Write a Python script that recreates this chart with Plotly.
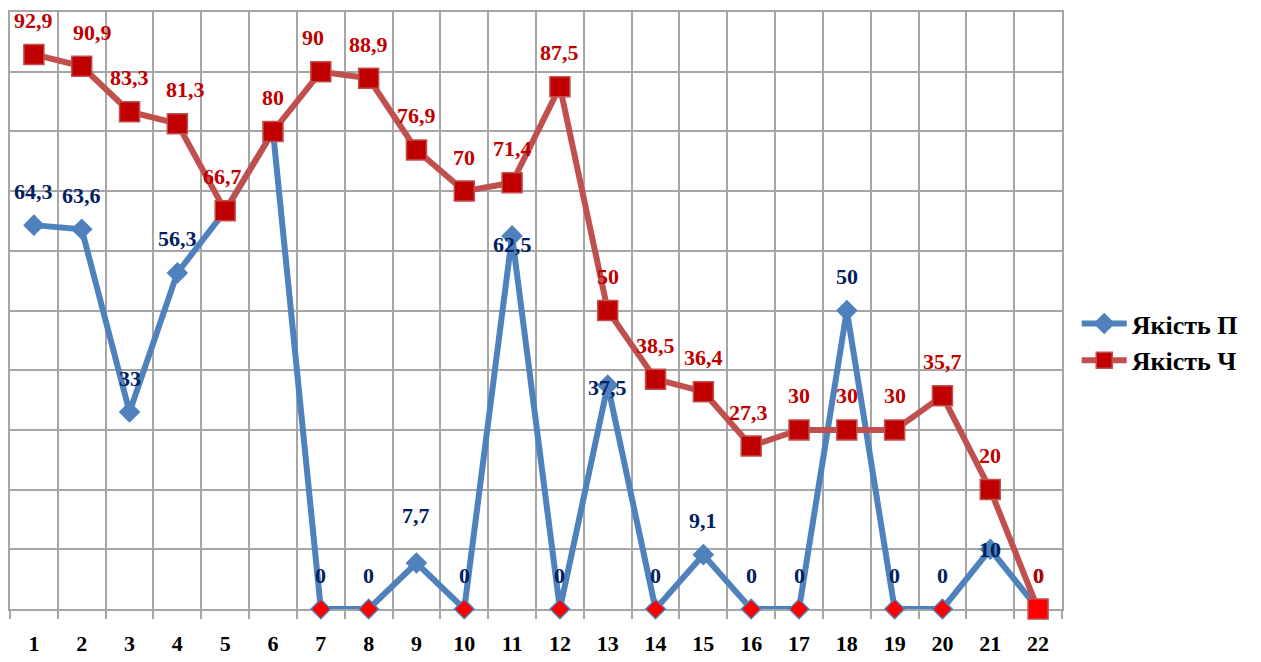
import plotly.graph_objects as go

categories = [str(i) for i in range(1, 23)]
quality_p = [64.3, 63.6, 33, 56.3, 66.7, 80, 0, 0, 7.7, 0, 62.5, 0, 37.5, 0, 9.1, 0, 0, 50, 0, 0, 10, 0]
quality_ch = [92.9, 90.9, 83.3, 81.3, 66.7, 80, 90, 88.9, 76.9, 70, 71.4, 87.5, 50, 38.5, 36.4, 27.3, 30, 30, 30, 35.7, 20, 0]
name_p = "Якість П"
name_ch = "Якість Ч"


def fmt(v):
    return f"{v:g}".replace(".", ",")


BLUE = "#4f81bd"
RED_LINE = "#c0504d"
RED_FILL = "#c00000"
NAVY = "#002060"
FONT = "Liberation Serif"

blue_fill = ["#ff0000" if v == 0 else BLUE for v in quality_p]
red_fill = ["#ff0000" if v == 0 else RED_FILL for v in quality_ch]

fig = go.Figure()
fig.add_trace(go.Scatter(
    x=categories, y=quality_p, name=name_p, mode="lines+markers",
    line=dict(color=BLUE, width=6), cliponaxis=False,
    marker=dict(symbol="diamond", size=15, color=blue_fill, opacity=1,
                line=dict(color=BLUE, width=1.5)),
))
fig.add_trace(go.Scatter(
    x=categories, y=quality_ch, name=name_ch, mode="lines+markers",
    line=dict(color=RED_LINE, width=6), cliponaxis=False,
    marker=dict(symbol="square", size=20, color=red_fill, opacity=1,
                line=dict(color=RED_LINE, width=1.5)),
))

# label placement tweaks (style only)
blue_skip = {4, 5}
blue_dy = {2: 33, 8: 48, 10: -9, 12: -2, 20: 0}
red_dx = {1: 11, 3: 8, 4: -3, 6: -8, 15: -3}

annotations = []
for i, v in enumerate(quality_p):
    if i in blue_skip:
        continue
    annotations.append(dict(x=i, y=v, xref="x", yref="y", text=fmt(v), showarrow=False,
                            yshift=blue_dy.get(i, 34), xshift=0,
                            font=dict(family=FONT, size=22, color=NAVY, weight="bold")))
for i, v in enumerate(quality_ch):
    annotations.append(dict(x=i, y=v, xref="x", yref="y", text=fmt(v), showarrow=False,
                            yshift=34, xshift=red_dx.get(i, 0),
                            font=dict(family=FONT, size=22, color=RED_FILL, weight="bold")))

fig.update_layout(
    width=1253, height=654,
    margin=dict(l=2, r=199, t=2, b=53),
    paper_bgcolor="white", plot_bgcolor="white",
    showlegend=True,
    legend=dict(x=1.014, y=0.447, xanchor="left", yanchor="middle",
                font=dict(family=FONT, size=26, color="black", weight="bold"),
                tracegroupgap=4, itemwidth=45),
    annotations=annotations,
    xaxis=dict(type="category", tickson="boundaries", showgrid=True,
               gridcolor="#a6a6a6", gridwidth=1.5, layer="below traces",
               ticks="outside", ticklen=8, tickcolor="#a6a6a6", tickwidth=1.5,
               ticklabelstandoff=14,
               showline=True, linecolor="#a6a6a6", linewidth=1.5, mirror=True,
               tickfont=dict(family=FONT, size=22, color="black", weight="bold"),
               range=[-0.5, 21.5]),
    yaxis=dict(range=[0, 100], dtick=10, showgrid=True, gridcolor="#a6a6a6", gridwidth=1.5,
               showticklabels=False, zeroline=False, layer="below traces",
               showline=True, linecolor="#a6a6a6", linewidth=1.5, mirror=True),
)

fig.write_html("out.html")
